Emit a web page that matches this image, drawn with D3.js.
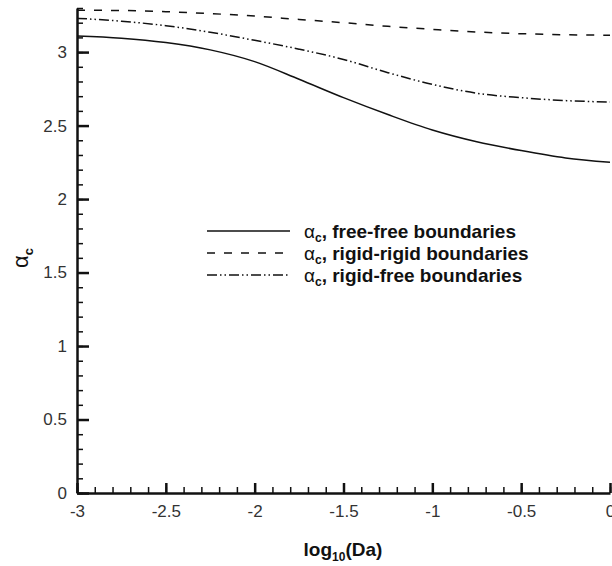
<!DOCTYPE html>
<html>
<head>
<meta charset="utf-8">
<script src="https://cdn.jsdelivr.net/npm/d3@7"></script>
<style>
  body { margin: 0; background: #fff; }
  text { font-family: "Liberation Sans", Arial, sans-serif; }
</style>
</head>
<body>
<div id="chart"></div>
<script>
// log10(Da) sample points
var logDa = [-3, -2.75, -2.5, -2.25, -2, -1.75, -1.5, -1.25, -1, -0.75, -0.5, -0.25, 0];

// critical alpha for each boundary case
var freeFree   = [3.11, 3.095, 3.065, 3.015, 2.935, 2.815, 2.69, 2.575, 2.47, 2.39, 2.33, 2.28, 2.25];
var rigidRigid = [3.285, 3.283, 3.275, 3.262, 3.245, 3.222, 3.20, 3.175, 3.155, 3.137, 3.125, 3.118, 3.115];
var rigidFree  = [3.23, 3.21, 3.18, 3.135, 3.08, 3.02, 2.95, 2.86, 2.78, 2.72, 2.69, 2.67, 2.66];

var seriesNames = ['free-free boundaries', 'rigid-rigid boundaries', 'rigid-free boundaries'];
var seriesDash = ['none', '8,9', '10,3,1.5,3,1.5,3'];

var xTicks = [-3, -2.5, -2, -1.5, -1, -0.5, 0];
var yTicks = [0, 0.5, 1, 1.5, 2, 2.5, 3];

var width = 612;
var height = 566;
var margin = { top: 8, right: 2, bottom: 73, left: 77 };

var svg = d3.select('#chart')
  .append('svg')
  .attr('width', width)
  .attr('height', height);

var x = d3.scaleLinear()
  .domain([-3, 0])
  .range([margin.left, width - margin.right]);

var y = d3.scaleLinear()
  .domain([0, 3.3])
  .range([height - margin.bottom, margin.top]);

// plain hyphen minus like the original
var fmt = function (d) { return String(d); };

// minor ticks every 0.1
var xMinor = x.ticks(30);
var yMinor = y.ticks(33);

svg.append('g')
  .attr('transform', 'translate(0,' + (height - margin.bottom) + ')')
  .call(d3.axisBottom(x).tickValues(xMinor).tickSize(-6).tickFormat(''))
  .call(function (g) { g.select('.domain').remove(); })
  .selectAll('line').attr('stroke', '#111').attr('stroke-width', 1.5);

svg.append('g')
  .attr('transform', 'translate(' + margin.left + ',0)')
  .call(d3.axisLeft(y).tickValues(yMinor).tickSize(-6).tickFormat(''))
  .call(function (g) { g.select('.domain').remove(); })
  .selectAll('line').attr('stroke', '#111').attr('stroke-width', 1.5);

var xAxis = svg.append('g')
  .attr('transform', 'translate(0,' + (height - margin.bottom) + ')')
  .call(d3.axisBottom(x).tickValues(xTicks).tickSizeInner(-10).tickSizeOuter(0).tickPadding(12)
    .tickFormat(fmt));

var yAxis = svg.append('g')
  .attr('transform', 'translate(' + margin.left + ',0)')
  .call(d3.axisLeft(y).tickValues(yTicks).tickSizeInner(-12).tickSizeOuter(0).tickPadding(10)
    .tickFormat(fmt));

[xAxis, yAxis].forEach(function (g) {
  g.select('.domain').attr('stroke', '#111').attr('stroke-width', 2.5);
  g.selectAll('.tick line').attr('stroke', '#111').attr('stroke-width', 2.5);
  g.selectAll('.tick text')
    .attr('fill', '#333')
    .style('font-size', '17px')
    .style('font-family', '"Liberation Sans", Arial, sans-serif');
});

// curves
var seriesData = [freeFree, rigidRigid, rigidFree];

var line = d3.line()
  .x(function (d) { return x(d[0]); })
  .y(function (d) { return y(d[1]); })
  .curve(d3.curveMonotoneX);

svg.selectAll('.curve')
  .data(seriesData)
  .enter().append('path')
  .attr('class', 'curve')
  .attr('fill', 'none')
  .attr('stroke', '#111')
  .attr('stroke-width', 1.5)
  .attr('stroke-dasharray', function (d, i) { return seriesDash[i]; })
  .attr('d', function (vals) {
    return line(vals.map(function (v, i) { return [logDa[i], v]; }));
  });

// legend
var legend = svg.append('g')
  .attr('transform', 'translate(207,231)');

var items = legend.selectAll('.item')
  .data(seriesNames)
  .enter().append('g')
  .attr('class', 'item')
  .attr('transform', function (d, i) { return 'translate(0,' + (i * 22) + ')'; });

items.append('line')
  .attr('x1', 0).attr('x2', 83)
  .attr('stroke', '#111')
  .attr('stroke-width', 1.5)
  .attr('stroke-dasharray', function (d, i) { return seriesDash[i]; });

var labels = items.append('text')
  .attr('x', 97)
  .attr('y', 7)
  .style('font-size', '19px')
  .style('font-weight', 'bold')
  .attr('fill', '#111');

labels.append('tspan').style('font-weight', 'normal').text('α');
labels.append('tspan').attr('dy', 4).style('font-size', '12px').text('c');
labels.append('tspan').attr('dy', -4).text(function (d) { return ', ' + d; });

// axis titles
var xTitle = svg.append('text')
  .attr('x', 343)
  .attr('y', 556)
  .attr('text-anchor', 'middle')
  .style('font-size', '19px')
  .style('font-weight', 'bold')
  .attr('fill', '#111');
xTitle.append('tspan').text('log');
xTitle.append('tspan').attr('dy', 5).style('font-size', '12px').text('10');
xTitle.append('tspan').attr('dy', -5).text('(Da)');

var yTitle = svg.append('text')
  .attr('transform', 'translate(28,258) rotate(-90)')
  .attr('text-anchor', 'middle')
  .style('font-size', '22px')
  .attr('fill', '#111');
yTitle.append('tspan').text('α');
yTitle.append('tspan').attr('dy', 5).style('font-size', '13px').style('font-weight', 'bold').text('c');
</script>
</body>
</html>
